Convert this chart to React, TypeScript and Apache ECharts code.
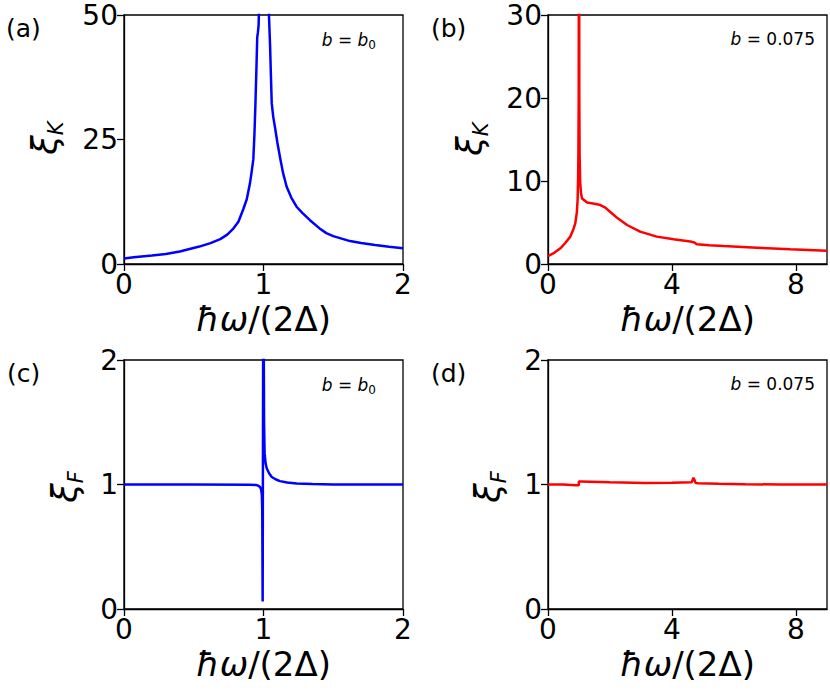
import React, { useEffect, useRef } from "react";
import * as echarts from "echarts";

// Panel (a): xi_K, b = b0
const aX = [0, 0.07, 0.2, 0.3, 0.4, 0.54, 0.62, 0.69, 0.74, 0.78, 0.82, 0.855, 0.88, 0.903, 0.915, 0.927, 0.935, 0.942, 0.95, 0.955, 0.96, 0.965, 0.975, 1.0, 1.039, 1.047, 1.053, 1.059, 1.07, 1.082, 1.1, 1.118, 1.14, 1.166, 1.2, 1.237, 1.28, 1.333, 1.4, 1.45, 1.5, 1.56, 1.62, 1.7, 1.8, 1.9, 2.0];
const aY = [1.1, 1.34, 1.7, 2.0, 2.5, 3.5, 4.2, 5.0, 5.9, 7.0, 8.5, 11.0, 13.0, 16.2, 18.5, 21.0, 26, 32, 40, 45.5, 46.5, 48, 60, 200, 50, 44, 38, 32.3, 29.5, 27.5, 24.3, 21.5, 18.3, 15.5, 13.3, 11.5, 10.2, 8.8, 7.2, 6.2, 5.6, 5.1, 4.6, 4.2, 3.8, 3.45, 3.15];

// Panel (b): xi_K, b = 0.075
const bX = [0, 0.2, 0.4, 0.55, 0.72, 0.8, 0.88, 0.93, 0.955, 0.97, 0.98, 0.99, 1.0, 1.01, 1.02, 1.04, 1.07, 1.1, 1.26, 1.5, 1.69, 1.85, 2.0, 2.25, 2.55, 2.97, 3.51, 4.05, 4.59, 4.72, 4.8, 5.2, 5.66, 6.74, 7.81, 9.0];
const bY = [0.96, 1.35, 1.89, 2.5, 3.3, 4.0, 4.9, 6.2, 7.7, 10, 13, 20, 60, 20, 13, 9.7, 8.4, 7.9, 7.4, 7.25, 7.1, 6.8, 6.3, 5.5, 4.7, 3.9, 3.3, 2.97, 2.7, 2.6, 2.37, 2.27, 2.17, 1.97, 1.77, 1.6];

// Panel (c): xi_F, b = b0
const cX = [0, 0.5, 0.9, 0.95, 0.963, 0.975, 0.983, 0.988, 0.991, 0.994, 0.999, 1.004, 1.008, 1.015, 1.023, 1.04, 1.059, 1.09, 1.118, 1.17, 1.238, 1.35, 1.5, 1.75, 2.0];
const cY = [1.0, 1.0, 0.998, 0.995, 0.99, 0.98, 0.96, 0.92, 0.8, 0.06, 3.0, 1.5, 1.25, 1.17, 1.13, 1.09, 1.06, 1.04, 1.027, 1.016, 1.008, 1.004, 1.001, 1.0, 1.0];

// Panel (d): xi_F, b = 0.075
const dX = [0, 0.5, 0.9, 0.99, 0.995, 1.05, 2.0, 3.14, 4.0, 4.64, 4.69, 4.72, 4.76, 4.85, 5.5, 6.36, 7.5, 9.0];
const dY = [1.0, 1.0, 0.993, 0.993, 1.024, 1.024, 1.018, 1.013, 1.015, 1.019, 1.054, 1.04, 1.013, 1.011, 1.006, 1.002, 1.0, 1.0];

const xTicksShort = [0, 1, 2];
const xTicksLong = [0, 4, 8];
const yTicksA = [0, 25, 50];
const yTicksB = [0, 10, 20, 30];
const yTicksF = [0, 1, 2];

const panelLabels = ["(a)", "(b)", "(c)", "(d)"];

const FONT = "DejaVu Sans";

const zip = (xs: number[], ys: number[]) => xs.map((x, i) => [x, ys[i]]);

export default function App() {
  const ref = useRef<HTMLDivElement>(null);
  useEffect(() => {
    if (!ref.current) return;
    const chart = echarts.init(ref.current, null, { renderer: "svg" });

    const grids = [
      { left: 124, top: 15, width: 279, height: 249 },
      { left: 548, top: 15, width: 279, height: 249 },
      { left: 124, top: 360, width: 279, height: 249 },
      { left: 548, top: 360, width: 279, height: 249 },
    ].map((g) => ({ ...g, show: true, borderColor: "#000", borderWidth: 1.3, backgroundColor: "transparent" }));

    const xAxis = (idx: number, max: number, ticks: number[], interval: number) => ({
      type: "value",
      gridIndex: idx,
      min: 0,
      max,
      interval,
      name: "{i|ħω}/(2Δ)",
      nameLocation: "middle",
      nameGap: 38,
      nameTextStyle: {
        fontSize: 34,
        fontFamily: FONT,
        color: "#000",
        rich: { i: { fontSize: 34, fontFamily: FONT, fontStyle: "italic", color: "#000" } },
      },
      axisLine: { show: true, lineStyle: { color: "#000", width: 1.3 } },
      axisTick: { show: true, length: 7, inside: false, customValues: ticks, lineStyle: { color: "#000", width: 1.3 } },
      axisLabel: { fontSize: 28, fontFamily: FONT, color: "#000", margin: 6, customValues: ticks },
      splitLine: { show: false },
    });

    const yAxis = (idx: number, max: number, ticks: number[], interval: number) => ({
      type: "value",
      gridIndex: idx,
      min: 0,
      max,
      interval,
      axisLine: { show: true, lineStyle: { color: "#000", width: 1.3 } },
      axisTick: { show: true, length: 7, inside: false, customValues: ticks, lineStyle: { color: "#000", width: 1.3 } },
      axisLabel: { fontSize: 28, fontFamily: FONT, color: "#000", margin: 6, customValues: ticks },
      splitLine: { show: false },
    });

    const line = (idx: number, xs: number[], ys: number[], color: string) => ({
      type: "line",
      xAxisIndex: idx,
      yAxisIndex: idx,
      data: zip(xs, ys),
      showSymbol: false,
      symbol: "none",
      clip: true,
      lineStyle: { color, width: 2.5 },
      emphasis: { disabled: true },
    });

    const yName = (x: number, y: number, sub: string) => ({
      type: "text",
      x,
      y,
      rotation: Math.PI / 2,
      style: {
        text: `{a|ξ}{b|${sub}}`,
        align: "center",
        verticalAlign: "middle",
        fill: "#000",
        rich: {
          a: { fontSize: 35, fontFamily: FONT, fontStyle: "italic", fill: "#000", lineHeight: 42, verticalAlign: "middle" },
          b: { fontSize: 21, fontFamily: FONT, fontStyle: "italic", fill: "#000", lineHeight: 22, verticalAlign: "bottom" },
        },
      },
    });

    const panelLabel = (x: number, y: number, t: string) => ({
      type: "text",
      x,
      y,
      style: { text: t, fontSize: 25, fontFamily: FONT, fill: "#000", align: "left", verticalAlign: "middle" },
    });

    const annot = (x: number, y: number, val: string, sub: boolean) => ({
      type: "text",
      x,
      y,
      style: {
        text: sub ? "{i|b} = {i|b}{s|0}" : `{i|b} = ${val}`,
        fontSize: 17,
        fontFamily: FONT,
        fill: "#000",
        align: "right",
        verticalAlign: "middle",
        rich: {
          i: { fontSize: 17, fontFamily: FONT, fontStyle: "italic", fill: "#000", lineHeight: 22, verticalAlign: "middle" },
          s: { fontSize: 12, fontFamily: FONT, fill: "#000", lineHeight: 14, verticalAlign: "bottom" },
        },
      },
    });

    chart.setOption({
      animation: false,
      backgroundColor: "#fff",
      grid: grids,
      xAxis: [
        xAxis(0, 2, xTicksShort, 1),
        xAxis(1, 9, xTicksLong, 4),
        xAxis(2, 2, xTicksShort, 1),
        xAxis(3, 9, xTicksLong, 4),
      ],
      yAxis: [
        yAxis(0, 50, yTicksA, 25),
        yAxis(1, 30, yTicksB, 10),
        yAxis(2, 2, yTicksF, 1),
        yAxis(3, 2, yTicksF, 1),
      ],
      series: [
        line(0, aX, aY, "#0000ff"),
        line(1, bX, bY, "#ff0000"),
        line(2, cX, cY, "#0000ff"),
        line(3, dX, dY, "#ff0000"),
      ],
      graphic: [
        panelLabel(6, 28, panelLabels[0]),
        panelLabel(431, 28, panelLabels[1]),
        panelLabel(7, 373, panelLabels[2]),
        panelLabel(431, 373, panelLabels[3]),
        yName(45, 138, "K"),
        yName(470, 139, "K"),
        yName(65, 487, "F"),
        yName(488, 487, "F"),
        annot(376, 40, "", true),
        annot(815, 39, "0.075", false),
        annot(376, 385, "", true),
        annot(815, 384, "0.075", false),
      ],
    });

    return () => chart.dispose();
  }, []);

  return (
    <div
      ref={ref}
      style={{ position: "fixed", left: 0, top: 0, width: 830, height: 692, background: "#fff" }}
    />
  );
}
